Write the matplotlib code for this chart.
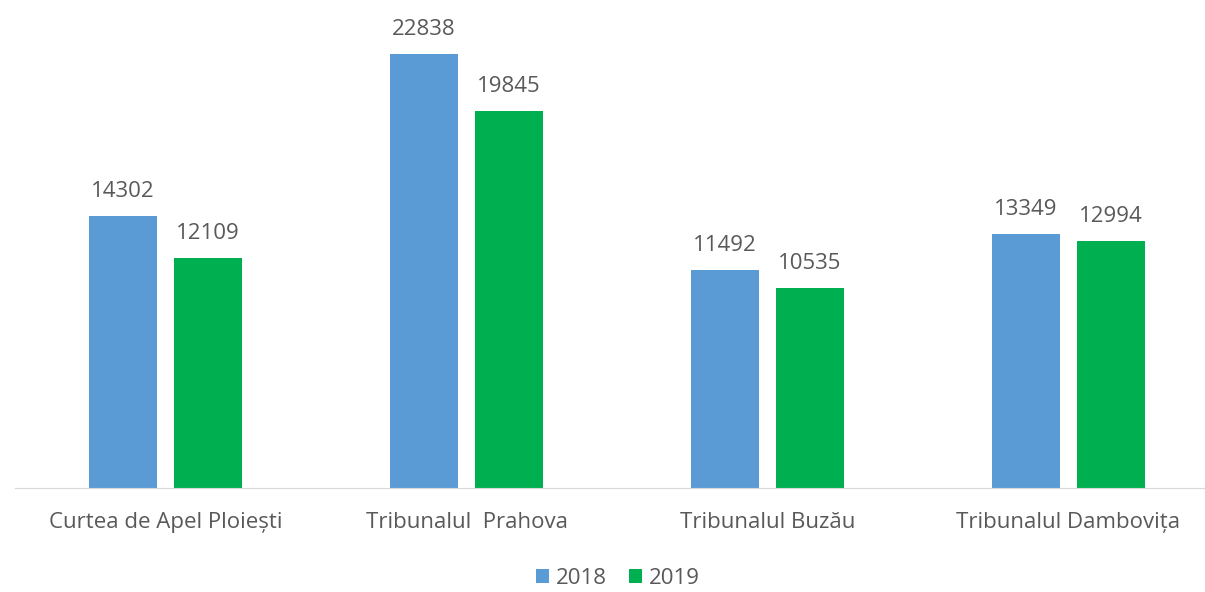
import numpy as np
import matplotlib
matplotlib.use("Agg")
import matplotlib.pyplot as plt

# ---------------- DATA ----------------
categories = ["Curtea de Apel Ploiești", "Tribunalul  Prahova", "Tribunalul Buzău", "Tribunalul Dambovița"]
years = ["2018", "2019"]
values_2018 = [14302, 22838, 11492, 13349]
values_2019 = [12109, 19845, 10535, 12994]

colors = ["#5B9BD5", "#00B050"]
text_color = "#595959"

plt.rcParams['font.family'] = ['Open Sans', 'DejaVu Sans']

# ---------------- FIGURE ----------------
fig = plt.figure(figsize=(12.05, 5.92), dpi=100)
ax = fig.add_axes([15 / 1205, 104 / 592, 1190 / 1205, 475 / 592])

x = np.arange(len(categories))
w = 0.223
off = 0.141

for vals, col, lab, sgn in [(values_2018, colors[0], years[0], -1), (values_2019, colors[1], years[1], 1)]:
    bars = ax.bar(x + sgn * off, vals, width=w, color=col, label=lab)
    for b, v in zip(bars, vals):
        ax.annotate(str(v), (b.get_x() + b.get_width() / 2, v), xytext=(0, 10),
                    textcoords="offset points", ha="center", va="bottom",
                    fontsize=16, color=text_color)

ax.set_xlim(-0.5, -0.5 + 1190 / 301)
ax.set_ylim(0, 25000)
ax.set_xticks(x)
ax.set_xticklabels(categories, fontsize=16, color=text_color)
ax.tick_params(axis="x", length=0, pad=17)
ax.set_yticks([])
for s in ["top", "right", "left"]:
    ax.spines[s].set_visible(False)
ax.spines["bottom"].set_color("#D9D9D9")

fig.legend(loc="center", bbox_to_anchor=(618 / 1205, 1 - 578 / 592), ncol=2,
           frameon=False, fontsize=16, labelcolor=text_color,
           handlelength=0.6, handleheight=0.6, handletextpad=0.3, columnspacing=1.0)

fig.savefig("out.png", dpi=100)
